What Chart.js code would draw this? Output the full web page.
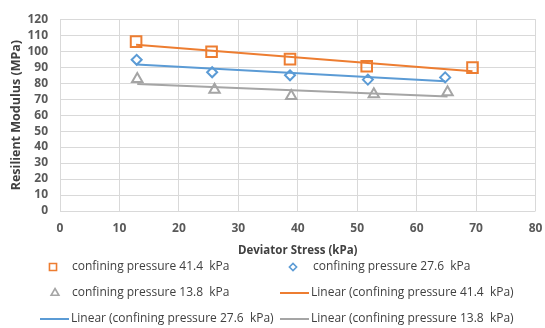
<!DOCTYPE html>
<html>
<head>
<meta charset="utf-8">
<script src="https://cdn.jsdelivr.net/npm/chart.js@4"></script>
<style>
  html, body { margin: 0; padding: 0; background: #fff; }
  #wrap { width: 545px; height: 328px; position: relative; }
</style>
</head>
<body>
<div id="wrap"><canvas id="mrChart" width="545" height="328"></canvas></div>
<script>
const X_41 = [12.8, 25.5, 38.7, 51.6, 69.4];
const Y_41 = [106, 99.6, 95, 90.6, 89.7];
const X_27 = [12.9, 25.6, 38.7, 51.8, 64.8];
const Y_27 = [94.6, 86.8, 84.9, 82.2, 83.6];
const X_13 = [13.0, 26.0, 38.9, 52.8, 65.2];
const Y_13 = [82.6, 75.9, 71.9, 73.0, 74.3];

const X_TICKS = [0, 10, 20, 30, 40, 50, 60, 70, 80];
const Y_TICKS = [0, 10, 20, 30, 40, 50, 60, 70, 80, 90, 100, 110, 120];

const ORANGE = "#ED7D31", BLUE = "#5B9BD5", GRAY = "#A5A5A5";
const TICK_COLOR = "#595959";

function pts(xs, ys) { return xs.map((x, i) => ({ x, y: ys[i] })); }

// least squares fit, like Excel's "Linear" trendline
function trend(xs, ys) {
  const n = xs.length;
  const mx = xs.reduce((a, b) => a + b, 0) / n;
  const my = ys.reduce((a, b) => a + b, 0) / n;
  let sxy = 0, sxx = 0;
  xs.forEach((x, i) => { sxy += (x - mx) * (ys[i] - my); sxx += (x - mx) ** 2; });
  const k = sxy / sxx, b = my - k * mx;
  const x0 = Math.min(...xs), x1 = Math.max(...xs);
  return [{ x: x0, y: k * x0 + b }, { x: x1, y: k * x1 + b }];
}

const markerSet = (label, data, color, style, r, lr) => ({
  label, data, type: "scatter",
  pointStyle: style, pointRadius: r, pointHoverRadius: r, legendRadius: lr,
  borderColor: color, backgroundColor: "rgba(0,0,0,0)", pointBorderWidth: 2,
  showLine: false,
});
const lineSet = (label, data, color) => ({
  label, data, type: "line", borderColor: color, borderWidth: 2,
  pointRadius: 0, fill: false,
});

const datasets = [
  lineSet("Linear (confining pressure 41.4  kPa)", trend(X_41, Y_41), ORANGE),
  lineSet("Linear (confining pressure 27.6  kPa)", trend(X_27, Y_27), BLUE),
  lineSet("Linear (confining pressure 13.8  kPa)", trend(X_13, Y_13), GRAY),
  markerSet("confining pressure 41.4  kPa", pts(X_41, Y_41), ORANGE, "rect", 7.5, 5),
  markerSet("confining pressure 27.6  kPa", pts(X_27, Y_27), BLUE, "rectRot", 5, 3.6),
  markerSet("confining pressure 13.8  kPa", pts(X_13, Y_13), GRAY, "triangle", 6, 4.5),
];

// legend drawn under the chart in Excel's 2-column order
const LEGEND = [
  { ds: 3, kind: "pt", x: 53, tx: 72, y: 267 },
  { ds: 4, kind: "pt", x: 293, tx: 313, y: 267 },
  { ds: 5, kind: "pt", x: 55, tx: 72, y: 293 },
  { ds: 0, kind: "ln", x: 280, tx: 311, y: 293 },
  { ds: 1, kind: "ln", x: 40, tx: 71, y: 319 },
  { ds: 2, kind: "ln", x: 280, tx: 311, y: 319 },
];

const excelLegend = {
  id: "excelLegend",
  afterDraw(chart) {
    const ctx = chart.ctx;
    ctx.save();
    ctx.textBaseline = "middle";
    LEGEND.forEach(it => {
      const ds = chart.data.datasets[it.ds];
      ctx.strokeStyle = ds.borderColor;
      if (it.kind === "pt") {
        ctx.lineWidth = 1.6;
        ctx.fillStyle = "rgba(0,0,0,0)";
        Chart.helpers.drawPoint(ctx, { pointStyle: ds.pointStyle, radius: ds.legendRadius, borderWidth: 1.6 }, it.x, it.y);
      } else {
        ctx.lineWidth = 2;
        ctx.beginPath();
        ctx.moveTo(it.x, it.y);
        ctx.lineTo(it.x + 29, it.y);
        ctx.stroke();
      }
      ctx.font = "12px 'Open Sans'";
      ctx.fillStyle = "#404040";
      ctx.fillText(ds.label, it.tx, it.y);
    });
    ctx.restore();
  },
};

new Chart(document.getElementById("mrChart"), {
  type: "scatter",
  data: { datasets },
  plugins: [excelLegend],
  options: {
    responsive: false,
    animation: false,
    layout: { padding: { left: 0, right: 5, top: 13, bottom: 67 } },
    plugins: { legend: { display: false }, tooltip: { enabled: false } },
    scales: {
      x: {
        type: "linear", min: 0, max: 80,
        afterBuildTicks: s => { s.ticks = X_TICKS.map(v => ({ value: v })); },
        afterFit: s => { s.height = 50; s.paddingRight = 0; s.paddingLeft = 0; },
        grid: { color: "#D9D9D9", drawTicks: false },
        border: { display: false },
        ticks: { color: TICK_COLOR, autoSkip: false, font: { family: "'Open Sans'", size: 12, weight: "bold" }, padding: 10, maxRotation: 0 },
        title: { display: true, text: "Deviator Stress (kPa)", color: "#404040",
          font: { family: "'Open Sans'", size: 11.5, weight: "bold" }, padding: { top: 4, bottom: 3 } },
      },
      y: {
        min: 0, max: 120,
        afterBuildTicks: s => { s.ticks = Y_TICKS.map(v => ({ value: v })); },
        afterFit: s => { s.width = 60; },
        grid: { color: "#D9D9D9", drawTicks: false },
        border: { display: false },
        ticks: { color: TICK_COLOR, autoSkip: false, font: { family: "'Open Sans'", size: 12, weight: "bold" }, padding: 12 },
        title: { display: true, text: "Resilient Modulus (MPa)", color: "#404040",
          font: { family: "'Open Sans'", size: 12.5, weight: "bold" }, padding: { top: 9, bottom: 0 } },
      },
    },
  },
});
</script>
</body>
</html>
